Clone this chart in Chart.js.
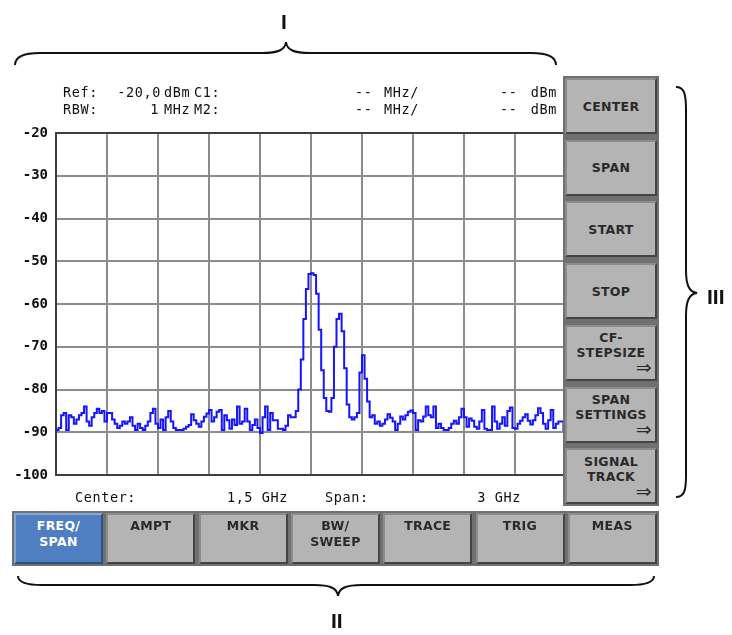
<!DOCTYPE html>
<html>
<head>
<meta charset="utf-8">
<script src="https://cdn.jsdelivr.net/npm/chart.js@4/dist/chart.umd.min.js"></script>
<style>
  body { margin: 0; background: #fff; }
  #wrap { position: relative; width: 732px; height: 635px; overflow: hidden; font-family: 'DejaVu Sans', sans-serif; color: #111; }
  #plot { position: absolute; left: 0; top: 0; }
  .t { position: absolute; font-family: 'DejaVu Sans Mono', monospace; font-size: 13.5px; line-height: 14px; white-space: pre; letter-spacing: 0.6px; }
  .r { text-align: right; }
  .frame { position: absolute; background: #707070; }
  .key { position: absolute; box-sizing: border-box; background: #b4b4b4; border: 2px solid; border-color: #8c8c8c #444 #444 #8c8c8c;
         font-size: 12.5px; font-weight: bold; line-height: 15px; letter-spacing: 0.3px; color: #2a2a2a; text-align: center; }
  .side { display: flex; flex-direction: column; justify-content: center; }
  .arrow { text-align: right; padding-right: 3px; font-size: 19px; line-height: 15px; font-weight: normal; }
  .menu { padding-top: 3px; line-height: 16px; }
  .menu.on { background: #4f7fc0; color: #fff; border-color: #86a6d2 #2f4f80 #2f4f80 #86a6d2; }
  .num { position: absolute; font-family: 'Liberation Sans', sans-serif; font-weight: bold; font-size: 21px; line-height: 22px; }
  svg { position: absolute; left: 0; top: 0; }
</style>
</head>
<body>
<div id="wrap">
  <canvas id="plot" width="732" height="635"></canvas>

  <!-- Kopfzeilen -->
  <div class="t" style="left:63px;top:85px">Ref:</div>
  <div class="t r" style="left:100px;top:85px;width:61px">-20,0</div>
  <div class="t" style="left:164px;top:85px">dBm</div>
  <div class="t" style="left:194px;top:85px">C1:</div>
  <div class="t" style="left:355px;top:85px">--</div>
  <div class="t" style="left:384px;top:85px">MHz/</div>
  <div class="t" style="left:500px;top:85px">--</div>
  <div class="t r" style="left:520px;top:85px;width:37px">dBm</div>

  <div class="t" style="left:63px;top:102px">RBW:</div>
  <div class="t r" style="left:100px;top:102px;width:59px">1</div>
  <div class="t" style="left:164px;top:102px">MHz</div>
  <div class="t" style="left:194px;top:102px">M2:</div>
  <div class="t" style="left:355px;top:102px">--</div>
  <div class="t" style="left:384px;top:102px">MHz/</div>
  <div class="t" style="left:500px;top:102px">--</div>
  <div class="t r" style="left:520px;top:102px;width:37px">dBm</div>

  <!-- Fusszeile -->
  <div class="t" style="left:75px;top:490px">Center:</div>
  <div class="t r" style="left:200px;top:490px;width:88px">1,5 GHz</div>
  <div class="t" style="left:325px;top:490px">Span:</div>
  <div class="t r" style="left:440px;top:490px;width:81px">3 GHz</div>

  <div class="frame" style="left:563px;top:76px;width:96px;height:430px"></div>
  <div class="frame" style="left:12px;top:511px;width:647px;height:55px"></div>
  <div id="keys"></div>

  <svg width="732" height="635" fill="none" stroke="#111" stroke-width="2">
    <path d="M15,65 C15,57 22,53 40,53 L262,53 C278,53 285,50 286,42 C287,50 294,53 310,53 L531,53 C549,53 556,57 556,65"/>
    <path d="M676,87 C684,87 686,93 686,110 L686,270 C686,285 689,292 697,293 C689,294 686,301 686,316 L686,476 C686,491 684,497 676,497"/>
    <path d="M18,576 C18,582 25,585 42,585 L314,585 C330,585 337,588 338,596 C339,588 346,585 362,585 L630,585 C647,585 654,582 654,576"/>
  </svg>
  <div class="num" style="left:281px;top:11px">I</div>
  <div class="num" style="left:707px;top:286px">III</div>
  <div class="num" style="left:331px;top:610px">II</div>
</div>

<script>
// Trace: Pegel in dBm, 0 .. 3000 MHz in 15-MHz-Schritten
const freqStartMHz = 0;
const freqStepMHz = 15;
const traceDbm = [
  -89.5, -89, -86, -85.5, -89.5, -86, -86.5, -88, -87, -86,
  -85.5, -84, -87.5, -88.5, -86.5, -85.5, -84.5, -85.5, -85, -87.5,
  -85.5, -85.5, -87, -88, -89, -88.5, -87.5, -88, -87.5, -86.5,
  -88.5, -89.5, -88, -89, -89.5, -88.5, -87.5, -85.5, -84.5, -88,
  -89, -87, -89.5, -86.5, -85, -87.5, -89, -89.5, -89.5, -89.5,
  -89.2, -88.7, -88.3, -85.8, -87.2, -88, -88.7, -87.5, -86.4, -85.6,
  -84.8, -87.5, -86.5, -85.2, -84.8, -89.5, -86, -87.2, -89.2, -87,
  -88.3, -84, -88, -87.5, -84.5, -87.5, -89.5, -88.3, -87, -89,
  -90.2, -86.5, -84, -89.5, -85.5, -87.2, -87.2, -89.2, -89.2, -89.5,
  -88.5, -86, -86.5, -86.5, -85, -80, -73, -63.5, -56.5, -53,
  -52.8, -53.2, -57.6, -66, -75.5, -82, -85, -85.2, -82, -70,
  -63.5, -62.3, -66.4, -75, -83.5, -86.5, -87, -86.5, -85.5, -76,
  -72, -77.5, -82.8, -86.5, -86, -88, -87.5, -88.5, -88, -87,
  -85.8, -86.6, -87.5, -89.5, -88, -86.3, -87, -86, -85.2, -84.9,
  -85.5, -89.5, -87.2, -87.5, -86.3, -84, -86, -86.5, -84, -89,
  -88, -89, -89.5, -89.5, -89, -88, -87.3, -88, -86.5, -84.5,
  -86.5, -88.7, -86.8, -87.3, -88.7, -89.2, -87.5, -84.8, -89.2, -89.5,
  -89.5, -84, -87.5, -89.2, -88, -86.5, -88.5, -85, -84.2, -89,
  -89.2, -88, -87.3, -86.5, -85.8, -87.3, -88.2, -87.2, -86, -84.4,
  -85.5, -88, -89.2, -87.2, -84.8, -89, -88, -87.5, -87.5, -89.5,
  -89.5
];
const yTicks = [-20, -30, -40, -50, -60, -70, -80, -90, -100];

const sideKeys = ['CENTER', 'SPAN', 'START', 'STOP', 'CF-\nSTEPSIZE', 'SPAN\nSETTINGS', 'SIGNAL\nTRACK'];
const sideArrow = [false, false, false, false, true, true, true];
const menuKeys = ['FREQ/\nSPAN', 'AMPT', 'MKR', 'BW/\nSWEEP', 'TRACE', 'TRIG', 'MEAS'];

// Softkeys rechts
const keys = document.getElementById('keys');
sideKeys.forEach((label, k) => {
    const d = document.createElement('div');
    d.className = 'key side';
    d.style.cssText = `left:565px;top:${78 + k * 61.7}px;width:92px;height:56px;`;
    label.split('\n').forEach(line => {
        const l = document.createElement('div');
        l.textContent = line;
        d.appendChild(l);
    });
    if (sideArrow[k]) {
        const a = document.createElement('div');
        a.className = 'arrow';
        a.textContent = '⇒';
        d.appendChild(a);
    }
    keys.appendChild(d);
});

// Menuezeile unten
menuKeys.forEach((label, k) => {
    const d = document.createElement('div');
    d.className = 'key menu' + (k === 0 ? ' on' : '');
    d.style.cssText = `left:${14 + k * 92.3}px;top:513px;width:89px;height:51px;`;
    d.innerText = label;
    keys.appendChild(d);
});

const gridGray = '#8c8c8c';
const frameDark = '#3e3e3e';

new Chart(document.getElementById('plot'), {
    type: 'line',
    data: {
        datasets: [{
            data: traceDbm.map((v, i) => ({ x: freqStartMHz + i * freqStepMHz, y: v })),
            borderColor: '#1414ff',
            borderWidth: 2,
            pointRadius: 0,
            stepped: true,
            fill: false
        }]
    },
    options: {
        responsive: false,
        animation: false,
        events: [],
        layout: { padding: { left: 0, top: 133, right: 166, bottom: 160 } },
        plugins: { legend: { display: false }, tooltip: { enabled: false } },
        scales: {
            x: {
                type: 'linear', min: 0, max: 3000,
                ticks: { display: false, stepSize: 300 },
                grid: { color: c => (c.tick && c.tick.value === 0 ? frameDark : gridGray), lineWidth: 2, drawTicks: false },
                border: { display: false },
                afterFit: s => { s.height = 0; }
            },
            y: {
                min: yTicks[yTicks.length - 1], max: yTicks[0],
                afterBuildTicks: s => { s.ticks = yTicks.map(v => ({ value: v })); },
                ticks: { color: '#111', font: { family: 'DejaVu Sans Mono', size: 14, weight: 'bold' }, padding: 8 },
                grid: { color: c => (c.tick && (c.tick.value === -20 || c.tick.value === -100) ? frameDark : gridGray), lineWidth: 2, drawTicks: false },
                border: { color: frameDark, width: 2 },
                afterFit: s => { s.width = 56; }
            }
        }
    }
});
</script>
</body>
</html>
